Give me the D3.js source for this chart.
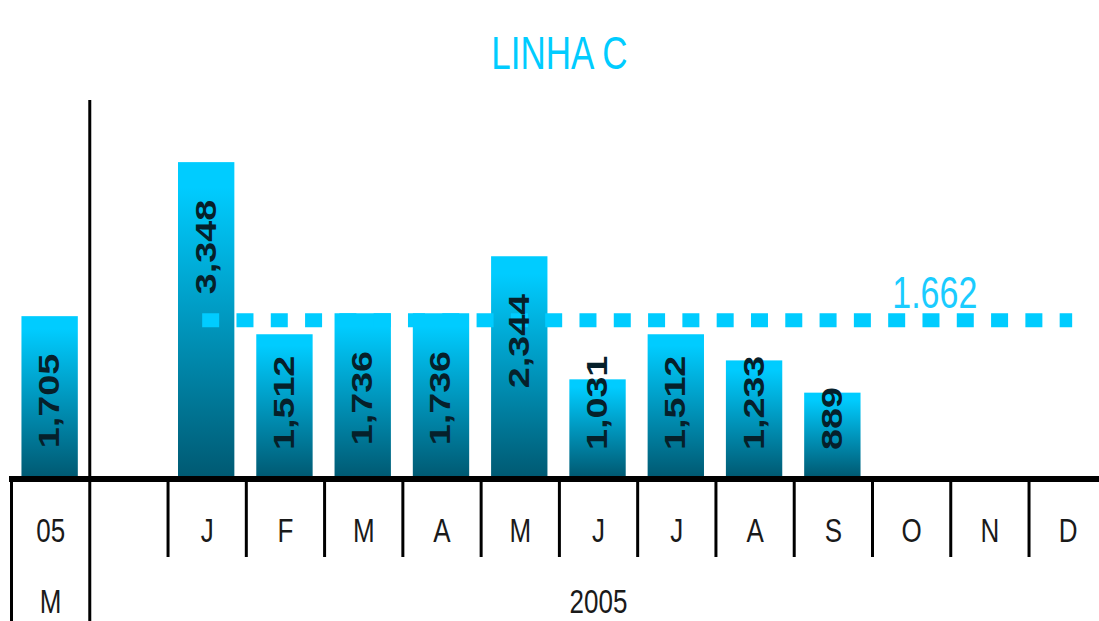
<!DOCTYPE html>
<html>
<head>
<meta charset="utf-8">
<script src="https://cdn.jsdelivr.net/npm/d3@7"></script>
<style>
  html, body { margin: 0; padding: 0; background: #fff; }
  svg { display: block; font-family: "Liberation Sans", Arial, sans-serif; }
</style>
</head>
<body>
<svg id="chart" width="1099" height="621"></svg>
<script>
// ---- data ----
const title = "LINHA C";
const monthLabels = ["05", "", "J", "F", "M", "A", "M", "J", "J", "A", "S", "O", "N", "D"];
const values = [1705, null, 3348, 1512, 1736, 1736, 2344, 1031, 1512, 1233, 889, null, null, null];
const groupLabels = ["M", "2005"];
const groupSpans = [1, 13];
const average = 1662;
const averageLabel = "1.662";
const yMax = 4000;

// ---- layout ----
const W = 1099, H = 621;
const baseY = 476, topY = 101;
const svg = d3.select("#chart");

const x = d3.scaleBand().domain(d3.range(monthLabels.length)).range([11.5, 1107.3]).padding(0);
const y = d3.scaleLinear().domain([0, yMax]).range([baseY, topY]);
const fmt = d3.format(",");
const stretch = 1.3;

// gradient
const defs = svg.append("defs");
const grad = defs.append("linearGradient").attr("id", "barGrad")
  .attr("x1", 0).attr("y1", 0).attr("x2", 0).attr("y2", 1);
grad.append("stop").attr("offset", "0").attr("stop-color", "#00CCFF");
grad.append("stop").attr("offset", "0.08").attr("stop-color", "#00CCFF");
grad.append("stop").attr("offset", "1").attr("stop-color", "#005A73");

// title
const mid = (x.range()[0] + x.range()[1]) / 2;
svg.append("text")
  .attr("transform", `translate(${mid},69) scale(1,${stretch})`)
  .attr("text-anchor", "middle")
  .attr("font-size", 35)
  .attr("fill", "#00CCFF")
  .text(title);

// bars
const barData = values.map((v, i) => ({ i, v })).filter(d => d.v != null);
const bw = x.bandwidth() * 0.72;
svg.append("g").selectAll("rect").data(barData).join("rect")
  .attr("x", d => x(d.i) + x.bandwidth() / 2 - bw / 2 - 1)
  .attr("width", bw)
  .attr("y", d => y(d.v))
  .attr("height", d => baseY - y(d.v))
  .attr("fill", "url(#barGrad)");

// average dashed line
const avgY = y(average);
const firstIdx = 2, lastIdx = monthLabels.length - 1;
svg.append("line")
  .attr("x1", x(firstIdx) + x.bandwidth() / 2 - 5)
  .attr("x2", x(lastIdx) + x.bandwidth() / 2 + 4)
  .attr("y1", avgY).attr("y2", avgY)
  .attr("stroke", "#00CCFF")
  .attr("stroke-width", 14)
  .attr("stroke-dasharray", "17,17.3");

svg.append("text")
  .attr("transform", `translate(${x(12) - 16},${avgY - 12}) scale(1,${stretch})`)
  .attr("text-anchor", "middle")
  .attr("font-size", 34)
  .attr("fill", "#1ACCFF")
  .text(averageLabel);

// value labels (rotated)
svg.append("g").selectAll("text").data(barData).join("text")
  .attr("transform", d => {
    const cx = x(d.i) + x.bandwidth() / 2 - 2;
    const yb = Math.min(y(d.v) + 132, 450);
    return `translate(${cx},${yb}) rotate(-90) scale(${stretch},1)`;
  })
  .attr("dy", "0.36em")
  .attr("font-size", 29)
  .attr("font-weight", "bold")
  .attr("fill", "#06202a")
  .text(d => fmt(d.v));

// axis line
svg.append("line")
  .attr("x1", 9).attr("x2", W)
  .attr("y1", baseY + 3).attr("y2", baseY + 3)
  .attr("stroke", "#000").attr("stroke-width", 6);

// left border & divider
svg.append("line")
  .attr("x1", x(0)).attr("x2", x(0))
  .attr("y1", baseY).attr("y2", H)
  .attr("stroke", "#000").attr("stroke-width", 3);
svg.append("line")
  .attr("x1", x(1)).attr("x2", x(1))
  .attr("y1", topY - 1).attr("y2", H)
  .attr("stroke", "#000").attr("stroke-width", 3);

// tick separators
svg.append("g").selectAll("line").data(d3.range(2, monthLabels.length)).join("line")
  .attr("x1", d => x(d)).attr("x2", d => x(d))
  .attr("y1", baseY).attr("y2", 557)
  .attr("stroke", "#000").attr("stroke-width", 3);

// month labels
svg.append("g").selectAll("text").data(monthLabels.map((t, i) => ({ t, i }))).join("text")
  .attr("transform", d => `translate(${x(d.i) + x.bandwidth() / 2},542) scale(1,${stretch})`)
  .attr("text-anchor", "middle")
  .attr("font-size", 26)
  .attr("fill", "#1a1a1a")
  .text(d => d.t);

// group labels
let start = 0;
const groups = groupLabels.map((g, k) => {
  const s = start; start += groupSpans[k];
  return { g, s, e: start };
});
svg.append("g").selectAll("text").data(groups).join("text")
  .attr("transform", d => {
    const x0 = x(d.s);
    const x1 = x(d.e - 1) + x.bandwidth();
    return `translate(${(x0 + x1) / 2},613) scale(1,${stretch})`;
  })
  .attr("text-anchor", "middle")
  .attr("font-size", 26)
  .attr("fill", "#1a1a1a")
  .text(d => d.g);
</script>
</body>
</html>
